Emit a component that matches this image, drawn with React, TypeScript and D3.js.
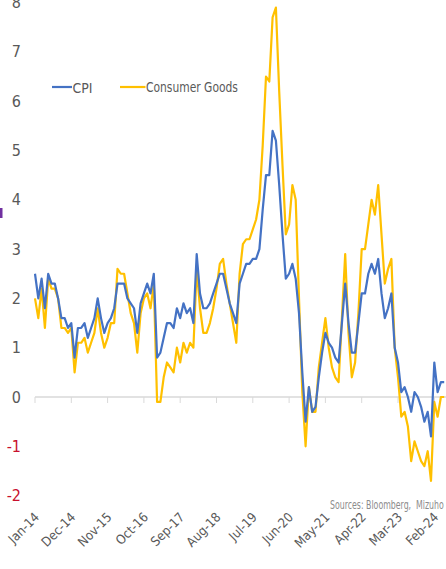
import React, { useLayoutEffect, useRef, useState } from 'react';
import * as d3 from 'd3';

// Monthly YoY %, Jan-2014 .. May-2024
const cpi: number[] = [
  2.5, 2.0, 2.4, 1.8, 2.5, 2.3, 2.3, 2.0, 1.6, 1.6, 1.4, 1.5,
  0.8, 1.4, 1.4, 1.5, 1.2, 1.4, 1.6, 2.0, 1.6, 1.3, 1.5, 1.6,
  1.8, 2.3, 2.3, 2.3, 2.0, 1.9, 1.8, 1.3, 1.9, 2.1, 2.3, 2.1,
  2.5, 0.8, 0.9, 1.2, 1.5, 1.5, 1.4, 1.8, 1.6, 1.9, 1.7, 1.8,
  1.5, 2.9, 2.1, 1.8, 1.8, 1.9, 2.1, 2.3, 2.5, 2.5, 2.2, 1.9,
  1.7, 1.5, 2.3, 2.5, 2.7, 2.7, 2.8, 2.8, 3.0, 3.8, 4.5, 4.5,
  5.4, 5.2, 4.3, 3.3, 2.4, 2.5, 2.7, 2.4, 1.7, 0.5, -0.5, 0.2,
  -0.3, -0.2, 0.4, 0.9, 1.3, 1.1, 1.0, 0.8, 0.7, 1.5, 2.3, 1.5,
  0.9, 0.9, 1.5, 2.1, 2.1, 2.5, 2.7, 2.5, 2.8, 2.1, 1.6, 1.8,
  2.1, 1.0, 0.7, 0.1, 0.2, 0.0, -0.3, 0.1, 0.0, -0.2, -0.5, -0.3,
  -0.8, 0.7, 0.1, 0.3, 0.3,
];

const consumerGoods: number[] = [
  2.0, 1.6, 2.2, 1.4, 2.4, 2.2, 2.2, 2.0, 1.4, 1.4, 1.3, 1.4,
  0.5, 1.1, 1.1, 1.2, 0.9, 1.1, 1.3, 1.8, 1.3, 1.0, 1.2, 1.5,
  1.5, 2.6, 2.5, 2.5, 2.1, 1.7, 1.5, 0.9, 1.7, 2.0, 2.1, 1.8,
  2.3, -0.1, -0.1, 0.4, 0.7, 0.6, 0.5, 1.0, 0.7, 1.1, 0.9, 1.1,
  1.0, 2.6, 1.8, 1.3, 1.3, 1.5, 1.8, 2.2, 2.7, 2.8, 2.3, 1.9,
  1.5, 1.1, 2.5, 3.1, 3.2, 3.2, 3.4, 3.6, 4.0, 5.1, 6.5, 6.4,
  7.7, 7.9, 6.2, 4.7, 3.3, 3.5, 4.3, 4.0, 2.0, 0.1, -1.0, 0.2,
  -0.3, -0.3, 0.6, 1.1, 1.6, 1.0, 0.6, 0.4, 0.3, 1.6, 2.9, 1.3,
  0.4, 0.7, 1.7, 3.0, 3.0, 3.5, 4.0, 3.7, 4.3, 3.3, 2.3, 2.6,
  2.8, 1.0, 0.4, -0.4, -0.3, -0.6, -1.3, -0.9, -1.1, -1.3, -1.4, -1.1,
  -1.7, -0.1, -0.4, 0.0, 0.0,
];

const tickLabels: string[] = [
  'Jan-14', 'Dec-14', 'Nov-15', 'Oct-16', 'Sep-17', 'Aug-18',
  'Jul-19', 'Jun-20', 'May-21', 'Apr-22', 'Mar-23', 'Feb-24',
];
const tickStep = 11; // months between labelled ticks

const yTicks: number[] = [8, 7, 6, 5, 4, 3, 2, 1, 0, -1, -2];

const seriesNames = ['CPI', 'Consumer Goods'];
const sourceNote = 'Sources: Bloomberg,  Mizuho';
const colors = { cpi: '#4472C4', goods: '#FFC000' };

const W = 446;
const H = 569;
const FONT = "'Liberation Sans Narrow', 'DejaVu Sans Condensed', 'Arial Narrow', sans-serif";

// Text squeezed horizontally to a target width (narrow-face look)
function FitText(props: {
  x: number;
  y: number;
  width: number;
  fontSize: number;
  fill: string;
  children: string;
}) {
  const ref = useRef<SVGTextElement>(null);
  const [sx, setSx] = useState(1);
  useLayoutEffect(() => {
    if (ref.current) {
      const len = ref.current.getComputedTextLength();
      if (len > 0) setSx(props.width / len);
    }
  }, [props.children, props.width]);
  return (
    <text
      ref={ref}
      transform={`translate(${props.x},${props.y}) scale(${sx},1)`}
      dominantBaseline="central"
      fontSize={props.fontSize}
      fill={props.fill}
      style={{ whiteSpace: 'pre' }}
    >
      {props.children}
    </text>
  );
}

export default function App() {
  const n = cpi.length;
  const x = d3.scaleLinear().domain([0, n - 1]).range([35, 35 + (n - 1) * 3.3]);
  const y = d3.scaleLinear().domain([-2, 8]).range([495.6, 2.6]);

  const line = d3
    .line<number>()
    .x((_, i) => x(i))
    .y((d) => y(d));

  const axisY = y(0);

  return (
    <svg
      width={W}
      height={H}
      style={{ position: 'absolute', left: 0, top: 0, background: '#fff' }}
      fontFamily={FONT}
    >
      <rect x={0} y={0} width={W} height={H} fill="#fff" />

      {/* fragment of a side label */}
      <rect x={0} y={208} width={2.5} height={10} fill="#7030A0" />

      {/* y-axis labels */}
      {yTicks.map((t) => (
        <text
          key={t}
          x={21}
          y={y(t)}
          textAnchor="end"
          dominantBaseline="central"
          fontSize={16}
          fill={t < 0 ? '#C8102E' : '#595959'}
        >
          {t}
        </text>
      ))}

      {/* zero axis line with tick marks */}
      <line x1={x(0)} x2={W} y1={axisY} y2={axisY} stroke="#D9D9D9" strokeWidth={1.5} />
      {tickLabels.map((lab, k) => {
        const tx = x(k * tickStep);
        return (
          <g key={lab}>
            <line x1={tx} x2={tx} y1={axisY} y2={axisY + 6} stroke="#D9D9D9" strokeWidth={1} />
            <text
              transform={`translate(${tx + 5},${518}) rotate(-45)`}
              textAnchor="end"
              fontSize={13}
              fill="#595959"
            >
              {lab}
            </text>
          </g>
        );
      })}

      {/* series */}
      <path d={line(consumerGoods) || ''} fill="none" stroke={colors.goods} strokeWidth={2.2} strokeLinejoin="round" />
      <path d={line(cpi) || ''} fill="none" stroke={colors.cpi} strokeWidth={2.2} strokeLinejoin="round" />

      {/* legend */}
      <line x1={52} x2={72} y1={87} y2={87} stroke={colors.cpi} strokeWidth={2.2} />
      <FitText x={72.5} y={87.5} width={20} fontSize={14} fill="#595959">
        {seriesNames[0]}
      </FitText>
      <line x1={120} x2={145.5} y1={87} y2={87} stroke={colors.goods} strokeWidth={2.2} />
      <FitText x={146} y={87.5} width={92} fontSize={14} fill="#595959">
        {seriesNames[1]}
      </FitText>

      {/* source note */}
      <FitText x={330} y={504} width={114} fontSize={12} fill="#8C8C8C">
        {sourceNote}
      </FitText>
    </svg>
  );
}
